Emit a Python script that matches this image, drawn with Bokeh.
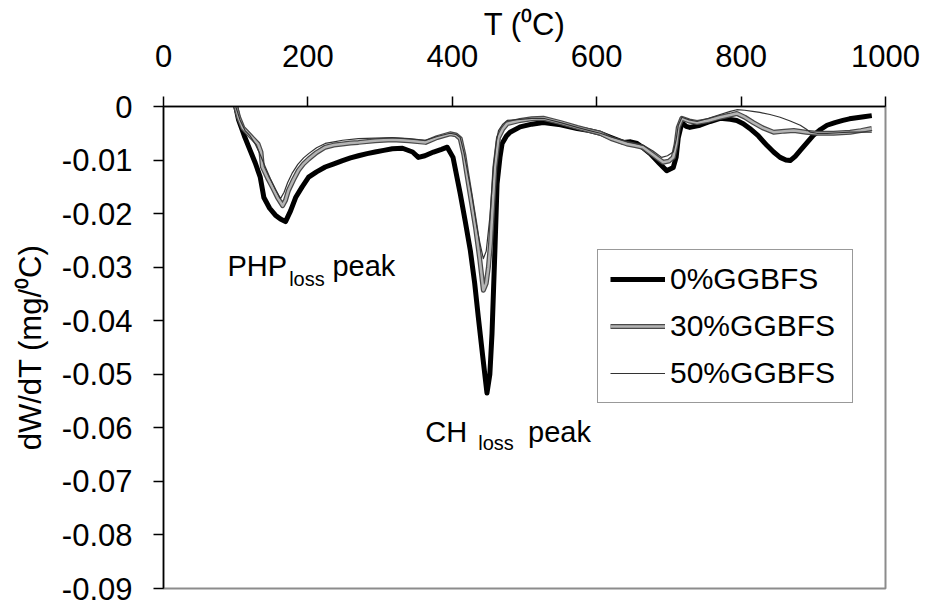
from bokeh.plotting import figure
from bokeh.models import Range1d, FixedTicker, Legend, LegendItem, Label
from bokeh.embed import file_html
from bokeh.resources import INLINE

# ---------------- data ----------------
x_ticks = [0, 200, 400, 600, 800, 1000]
x_tick_labels = ["0", "200", "400", "600", "800", "1000"]
y_ticks = [0, -0.01, -0.02, -0.03, -0.04, -0.05, -0.06, -0.07, -0.08, -0.09]
y_tick_labels = ["0", "-0.01", "-0.02", "-0.03", "-0.04", "-0.05", "-0.06", "-0.07", "-0.08", "-0.09"]

series_names = ["0%GGBFS", "30%GGBFS", "50%GGBFS"]

t_0 = [100, 104, 112, 120, 127, 134, 139, 147, 155, 162, 169, 176, 183, 192, 201, 212, 224, 236, 248, 259,
       270, 282, 293, 305, 317, 331, 345, 353, 362, 374, 385, 393, 401, 411, 418, 425, 431, 436, 442, 448,
       452, 455, 459, 462, 466, 469, 475, 480, 494, 510, 526, 550, 573, 590, 605, 620, 637, 647, 656, 665,
       674, 686, 697, 706, 710, 713, 718, 724, 729, 743, 757, 771, 785, 794, 803, 812, 824, 836, 845, 854,
       862, 868, 875, 882, 891, 900, 910, 919, 930, 941, 950, 960, 970, 981]
dw_0 = [0, -0.0025, -0.0055, -0.0082, -0.0105, -0.0132, -0.0170, -0.0190, -0.0203, -0.0210, -0.0215, -0.0195,
        -0.0170, -0.0150, -0.0132, -0.0122, -0.0113, -0.0107, -0.0101, -0.0096, -0.0092, -0.0088, -0.0085,
        -0.0082, -0.0079, -0.0078, -0.0085, -0.0095, -0.0092, -0.0085, -0.0080, -0.0076, -0.0095, -0.0163,
        -0.0215, -0.0269, -0.0330, -0.0393, -0.0465, -0.0535, -0.0500, -0.0424, -0.0269, -0.0144, -0.0095,
        -0.0069, -0.0055, -0.0048, -0.0038, -0.0033, -0.0030, -0.0034, -0.0041, -0.0045, -0.0050, -0.0058,
        -0.0067, -0.0066, -0.0069, -0.0078, -0.0088, -0.0105, -0.0120, -0.0114, -0.0095, -0.0058, -0.0030,
        -0.0037, -0.0039, -0.0035, -0.0028, -0.0022, -0.0024, -0.0026, -0.0032, -0.0041, -0.0055, -0.0073,
        -0.0085, -0.0095, -0.0100, -0.0101, -0.0093, -0.0082, -0.0068, -0.0054, -0.0043, -0.0035, -0.0030,
        -0.0026, -0.0023, -0.0021, -0.0019, -0.0017]

t_30 = [100, 104, 110, 117, 124, 131, 135, 137, 144, 151, 158, 165, 169, 173, 180, 187, 194, 201, 212, 224,
        236, 248, 259, 270, 293, 317, 340, 363, 379, 397, 405, 411, 416, 420, 426, 432, 438, 443, 447, 450,
        453, 455, 459, 464, 470, 476, 494, 510, 526, 550, 573, 590, 605, 620, 642, 653, 664, 678, 692, 700,
        706, 710, 713, 718, 728, 739, 755, 771, 785, 794, 805, 817, 830, 845, 860, 873, 890, 905, 928, 951,
        966, 981]
dw_30 = [0, -0.0020, -0.0040, -0.0050, -0.0060, -0.0070, -0.0085, -0.0113, -0.0133, -0.0151, -0.0170, -0.0185,
         -0.0175, -0.0157, -0.0137, -0.0119, -0.0107, -0.0098, -0.0086, -0.0076, -0.0072, -0.0070, -0.0068,
         -0.0067, -0.0064, -0.0062, -0.0064, -0.0067, -0.0058, -0.0051, -0.0053, -0.0060, -0.0090, -0.0125,
         -0.0175, -0.0225, -0.0285, -0.0343, -0.0330, -0.0300, -0.0255, -0.0207, -0.0113, -0.0058, -0.0042,
         -0.0032, -0.0026, -0.0023, -0.0022, -0.0030, -0.0039, -0.0045, -0.0050, -0.0060, -0.0070, -0.0073,
         -0.0076, -0.0090, -0.0104, -0.0102, -0.0095, -0.0070, -0.0039, -0.0022, -0.0027, -0.0030, -0.0026,
         -0.0020, -0.0016, -0.0013, -0.0020, -0.0030, -0.0040, -0.0048, -0.0046, -0.0045, -0.0048, -0.0050,
         -0.0050, -0.0048, -0.0045, -0.0041]

t_50 = [100, 106, 113, 120, 127, 134, 141, 148, 155, 162, 167, 172, 178, 186, 194, 201, 212, 224, 236, 248,
        270, 293, 317, 340, 363, 379, 397, 405, 411, 416, 420, 427, 434, 439, 443, 447, 452, 457, 461, 464,
        470, 476, 494, 510, 526, 550, 573, 590, 605, 620, 642, 664, 678, 690, 698, 706, 710, 713, 718, 728,
        739, 755, 771, 785, 794, 805, 816, 826, 840, 854, 868, 882, 890, 896, 905, 919, 935, 951, 966, 981]
dw_50 = [0, -0.0025, -0.0045, -0.0055, -0.0070, -0.0090, -0.0113, -0.0135, -0.0155, -0.0172, -0.0160, -0.0142,
         -0.0125, -0.0108, -0.0096, -0.0088, -0.0077, -0.0069, -0.0066, -0.0063, -0.0060, -0.0059, -0.0058,
         -0.0060, -0.0063, -0.0056, -0.0050, -0.0052, -0.0058, -0.0085, -0.0113, -0.0165, -0.0225, -0.0260,
         -0.0284, -0.0270, -0.0207, -0.0113, -0.0065, -0.0045, -0.0033, -0.0026, -0.0024, -0.0022, -0.0022,
         -0.0030, -0.0039, -0.0045, -0.0050, -0.0057, -0.0065, -0.0072, -0.0083, -0.0095, -0.0092, -0.0085,
         -0.0062, -0.0035, -0.0020, -0.0025, -0.0028, -0.0022, -0.0015, -0.0009, -0.0006, -0.0007, -0.0009,
         -0.0011, -0.0015, -0.0020, -0.0027, -0.0035, -0.0042, -0.0048, -0.0050, -0.0050, -0.0049, -0.0048,
         -0.0048, -0.0048]

FONT = "Liberation Sans"

# ---------------- figure ----------------
p = figure(width=925, height=605, output_backend="svg", toolbar_location=None,
           x_range=Range1d(0, 1000), y_range=Range1d(-0.09, 0),
           x_axis_location="above",
           min_border_left=163, min_border_right=40, min_border_top=106, min_border_bottom=17)
p.background_fill_color = "white"
p.border_fill_color = "white"
p.outline_line_color = "#8c8c8c"
p.outline_line_width = 2
p.xgrid.visible = False
p.ygrid.visible = False

xa = p.xaxis[0]
xa.ticker = FixedTicker(ticks=x_ticks)
xa.major_label_overrides = {t: l for t, l in zip(x_ticks, x_tick_labels)}
xa.axis_label = "T (\u2070C)"
ya = p.yaxis[0]
ya.ticker = FixedTicker(ticks=y_ticks)
ya.major_label_overrides = {t: l for t, l in zip(y_ticks, y_tick_labels)}
ya.axis_label = "dW/dT (mg/\u2070C)"

for ax in (xa, ya):
    ax.axis_line_color = "black"
    ax.axis_line_width = 1.5
    ax.major_tick_line_color = "black"
    ax.major_tick_line_width = 1.5
    ax.major_tick_out = 10
    ax.major_tick_in = 0
    ax.minor_tick_line_color = None
    ax.major_label_text_font = FONT
    ax.major_label_text_font_size = "31px"
    ax.major_label_text_color = "black"
    ax.axis_label_text_font = FONT
    ax.axis_label_text_font_size = "31px"
    ax.axis_label_text_font_style = "normal"
    ax.axis_label_text_color = "black"

xa.major_label_standoff = 30
xa.axis_label_standoff = 0
ya.major_label_standoff = 21
ya.axis_label_standoff = 11

# ---------------- lines ----------------
r0 = p.line(t_0, dw_0, line_color="black", line_width=5, line_join="round")
r30a = p.line(t_30, dw_30, line_color="#4a4a4a", line_width=5, line_join="round")
r30b = p.line(t_30, dw_30, line_color="#b4b4b4", line_width=2.5, line_join="round")
r50 = p.line(t_50, dw_50, line_color="#333333", line_width=1.2, line_join="round")

legend = Legend(items=[LegendItem(label=series_names[0], renderers=[r0]),
                       LegendItem(label=series_names[1], renderers=[r30a, r30b]),
                       LegendItem(label=series_names[2], renderers=[r50])],
                location=(434, 185))
legend.border_line_color = "#333333"
legend.border_line_width = 1.5
legend.background_fill_color = "white"
legend.padding = 12
legend.spacing = 13
legend.margin = 0
legend.glyph_width = 55
legend.glyph_height = 30
legend.label_standoff = 5
legend.label_width = 170
legend.label_text_font = FONT
legend.label_text_font_size = "30px"
legend.label_text_color = "black"
p.add_layout(legend)

# ---------------- annotations ----------------
def add_label(x, y, text, size):
    p.add_layout(Label(x=x, y=y, text=text, text_font=FONT, text_font_size=size,
                       text_color="black", text_align="left", text_baseline="middle"))

add_label(88.6, -0.0297, "PHP", "29px")
add_label(174.0, -0.0322, "loss", "20px")
add_label(234.0, -0.0297, "peak", "29px")
add_label(362.6, -0.0608, "CH", "29px")
add_label(436.0, -0.0628, "loss", "20px")
add_label(505.0, -0.0608, "peak", "29px")

open("out.html", "w").write(file_html(p, INLINE))
